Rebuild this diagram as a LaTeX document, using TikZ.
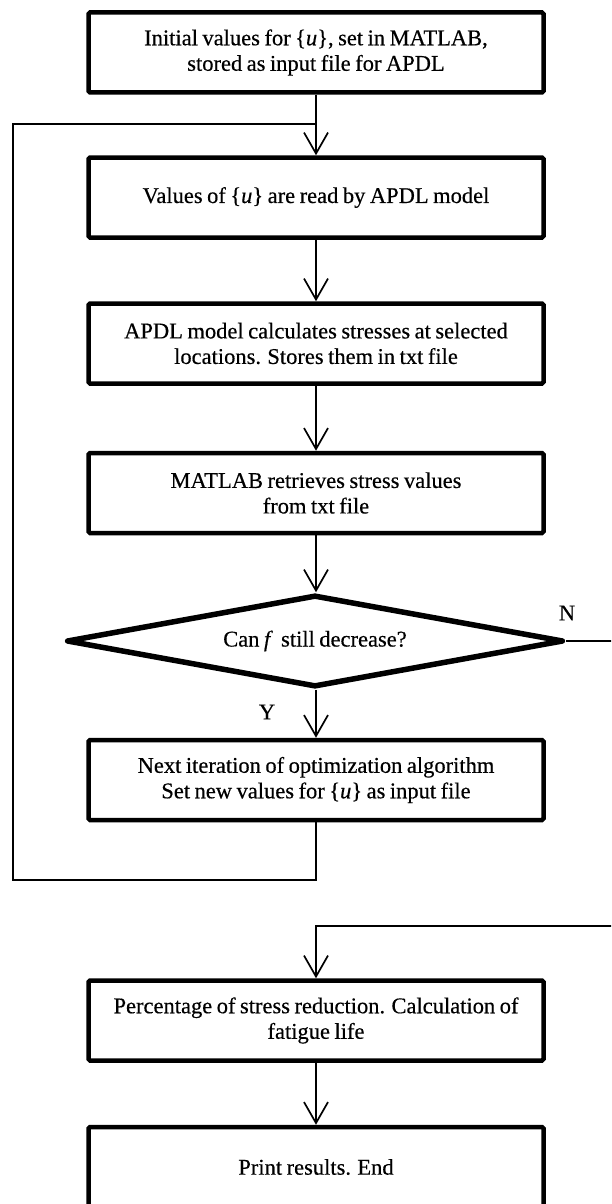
\documentclass[tikz,border=0pt]{standalone}
\usepackage{fontspec}
\setmainfont{Liberation Serif}[WordSpace=0.8,FakeBold=0.4]
\usetikzlibrary{arrows.meta,shapes.geometric}
\begin{document}
\begin{tikzpicture}[x=1pt,y=-1pt,
  txt/.style={font=\fontsize{22.5}{25.5}\selectfont},
  box/.style={txt, draw, line width=4.5pt, rounded corners=1.5pt, minimum width=455pt,
    minimum height=80pt, inner sep=0pt, align=center},
  dec/.style={txt, draw, diamond, aspect=5.3, line width=5.5pt, line join=round,
    minimum width=497pt, minimum height=92pt, inner sep=0pt},
  conn/.style={line width=1.7pt},
  arr/.style={conn, -{Straight Barb[length=21pt,width=24pt,line width=1.7pt]}},
  lab/.style={txt, inner sep=0pt}]
\clip (0,0) rectangle (611,1204);
\fill[white] (0,0) rectangle (611,1204);

\node[box] (b1) at (316,52.5) {Initial values for \{\textit{u}\}, set in MATLAB,\\stored as input file for APDL};
\node[box] (b2) at (316,197.5) {Values of \{\textit{u}\} are read by APDL model};
\node[box] (b3) at (316,343.5) {APDL model calculates stresses at selected\\locations. Stores them in txt file};
\node[box] (b4) at (316,493) {MATLAB retrieves stress values\\from txt file};
\node[dec] (d) at (315,641) {Can \textit{f}\, still decrease?};
\node[box] (b6) at (316,780) {Next iteration of optimization algorithm\\Set new values for \{\textit{u}\} as input file};
\node[box] (b7) at (316,1020.5) {Percentage of stress reduction. Calculation of\\fatigue life};
\node[box] (b8) at (316,1167) {Print results. End};

\node[lab] (ly) at (267,712) {Y};
\node[lab] (ln) at (567,613) {N};

\coordinate (jn) at (316,124);
\coordinate (lt) at (13,124);
\coordinate (lb) at (13,880);
\coordinate (rr) at (640,641);
\coordinate (rb) at (640,926);

\draw[arr] (b1.south) -- (b2.north);
\draw[arr] (b2.south) -- (b3.north);
\draw[arr] (b3.south) -- (b4.north);
\draw[arr] (b4.south) -- (b4.south |- d.north);
\draw[arr] (b6.north |- d.south) -- (b6.north);
\draw[conn] (b6.south) |- (lb) -- (lt) -- (jn);
\draw[conn] (d.east) -- (rr);
\draw[arr] (rb) -| (b7.north);
\draw[arr] (b7.south) -- (b8.north);
\end{tikzpicture}
\end{document}
